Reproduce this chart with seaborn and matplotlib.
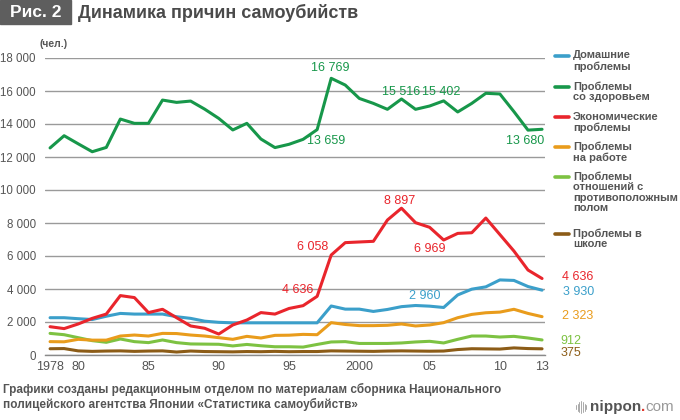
import matplotlib
matplotlib.use("Agg")
import matplotlib.pyplot as plt
import pandas as pd
import seaborn as sns
from matplotlib.lines import Line2D
from matplotlib.patches import Rectangle

# Data
years = list(range(1978, 2014))

domestic = [2260, 2260, 2200, 2150, 2350, 2520, 2480, 2480, 2480, 2320, 2220, 2050,
            1980, 1950, 1950, 1950, 1950, 1950, 1950, 1950, 2970, 2780, 2780, 2640,
            2760, 2930, 3000, 2960, 2880, 3640, 3990, 4130, 4550, 4520, 4150, 3930]
health = [12550, 13290, 12800, 12320, 12580, 14300, 14040, 14040, 15450, 15310, 15390, 14900,
          14340, 13640, 14040, 13090, 12570, 12770, 13070, 13659, 16769, 16360, 15550, 15250,
          14890, 15516, 14890, 15090, 15402, 14730, 15250, 15860, 15820, 14750, 13629, 13680]
economic = [1715, 1600, 1880, 2220, 2480, 3600, 3480, 2570, 2770, 2260, 1760, 1620,
            1270, 1820, 2120, 2570, 2480, 2820, 2990, 3556, 6058, 6810, 6850, 6890,
            8180, 8897, 8020, 7740, 6969, 7370, 7410, 8300, 7300, 6300, 5150, 4636]
work = [810, 800, 950, 900, 900, 1150, 1210, 1150, 1310, 1300, 1210, 1150,
        1050, 950, 1130, 1030, 1190, 1200, 1250, 1230, 1960, 1850, 1780, 1780,
        1800, 1880, 1760, 1820, 1960, 2260, 2460, 2560, 2600, 2770, 2520, 2323]
relations = [1310, 1230, 1050, 870, 770, 970, 810, 750, 910, 750, 670, 660,
             650, 550, 640, 560, 500, 500, 480, 640, 790, 810, 700, 700,
             700, 730, 790, 830, 730, 950, 1150, 1150, 1090, 1130, 1030, 912]
school = [380, 390, 250, 220, 240, 250, 220, 240, 250, 180, 240, 210,
          200, 190, 210, 200, 220, 200, 210, 210, 250, 240, 230, 220,
          240, 250, 240, 230, 240, 330, 380, 370, 360, 430, 390, 375]

causes = ["Домашние\nпроблемы", "Проблемы\nсо здоровьем", "Экономические\nпроблемы",
          "Проблемы\nна работе", "Проблемы\nотношений с\nпротивоположным\nполом",
          "Проблемы в\nшколе"]
colors = ["#3b9fca", "#17974a", "#e9252c", "#e99c1c", "#7dc242", "#8c5c17"]

xtick_labels = {1978: "1978", 1980: "80", 1985: "85", 1990: "90", 1995: "95",
                2000: "2000", 2005: "05", 2010: "10", 2013: "13"}

df = pd.DataFrame({"year": years, causes[0]: domestic, causes[1]: health,
                   causes[2]: economic, causes[3]: work, causes[4]: relations,
                   causes[5]: school})
long_df = df.melt(id_vars="year", var_name="cause", value_name="value")

sns.set_style("white")
plt.rcParams["font.family"] = ["Liberation Sans Narrow", "Liberation Sans", "DejaVu Sans"]

W, H = 680, 420
fig = plt.figure(figsize=(6.8, 4.2), dpi=100)


def fx(px):
    return px / W


def fy(py):
    return 1 - py / H


ax = fig.add_axes([fx(45), fy(355), 500 / W, 297 / H])

draw_order = [5, 4, 3, 0, 2, 1]
sns.lineplot(data=long_df, x="year", y="value", hue="cause",
             hue_order=[causes[i] for i in draw_order],
             palette=[colors[i] for i in draw_order],
             linewidth=2.2, legend=False, ax=ax)

ax.set_xlim(1977.64, 2013.21)
ax.set_ylim(0, 18000)
ax.set_xlabel("")
ax.set_ylabel("")

for s in ["left", "top", "right"]:
    ax.spines[s].set_visible(False)
ax.spines["bottom"].set_color("#8a8a8a")
ax.spines["bottom"].set_linewidth(1.0)

ax.set_yticks(range(0, 18001, 2000))
ax.set_yticklabels([f"{v:,}".replace(",", " ") for v in range(0, 18001, 2000)])
ax.yaxis.grid(True, color="#9a9a9a", linewidth=1.0)
ax.set_axisbelow(True)
ax.tick_params(axis="y", length=0, pad=6.5, labelsize=8.3, labelcolor="#555555")

ax.set_xticks(years)
ax.set_xticklabels([xtick_labels.get(y, "") for y in years])
ax.tick_params(axis="x", direction="in", length=3.5, width=0.8, color="#8a8a8a",
               pad=4, labelsize=9, labelcolor="#555555")

# value labels inside the chart: (year, value, text, color, dx, dy) offsets in px
inner = [
    (1998, 16769, "16 769", colors[1], -1, 10),
    (1997, 13659, "13 659", colors[1], 9, -11),
    (2003, 15516, "15 516", colors[1], 0, 7),
    (2006, 15402, "15 402", colors[1], -2, 9),
    (2013, 13680, "13 680", colors[1], -17, -12),
    (2003, 8897, "8 897", colors[2], -2, 7),
    (1998, 6058, "6 058", colors[2], -19, 8),
    (1997, 3556, "4 636", colors[2], -19, 6),
    (2006, 6969, "6 969", colors[2], -14, -9),
    (2005, 2960, "2 960", colors[0], -5, 10),
]
for yr, val, txt, col, dx, dy in inner:
    ax.annotate(txt, xy=(yr, val), xytext=(dx * 0.72, dy * 0.72),
                textcoords="offset points", ha="center", va="center",
                fontsize=9, color=col)

# end labels at 2013
ends = [(economic[-1], "4 636", colors[2], 20, 2), (domestic[-1], "3 930", colors[0], 21, -2),
        (work[-1], "2 323", colors[3], 20, 1), (relations[-1], "912", colors[4], 18, -1),
        (school[-1], "375", colors[5], 19, -4)]
for val, txt, col, dx, dy in ends:
    ax.annotate(txt, xy=(2013, val), xytext=(dx * 0.72, dy * 0.72),
                textcoords="offset points", ha="left", va="center",
                fontsize=9, color=col, annotation_clip=False)

# legend drawn by hand so the marker sits on the first line of each entry
leg_y = [56, 87, 117, 147, 177, 234]
for col, lab, y in zip(colors, causes, leg_y):
    fig.add_artist(Line2D([fx(555), fx(569)], [fy(y), fy(y)], color=col, lw=2.6))
    fig.text(fx(573), fy(y - 5.5), lab, ha="left", va="top", fontsize=8,
             fontweight="bold", color="#555555", linespacing=1.06,
             family=["Liberation Sans", "DejaVu Sans"])

# header
fig.add_artist(Rectangle((0, fy(24)), fx(71), 24 / H, color="#5e5e5e",
                         transform=fig.transFigure))
fig.text(fx(36), fy(12.5), "Рис. 2", ha="center", va="center", color="white",
         fontsize=12.5, fontweight="bold", family=["Liberation Sans", "DejaVu Sans"])
fig.text(fx(78), fy(12.5), "Динамика причин самоубийств", ha="left", va="center",
         color="#4a4a4a", fontsize=13, fontweight="bold",
         family=["Liberation Sans", "DejaVu Sans"])
fig.text(fx(40), fy(44), "(чел.)", ha="left", va="center", color="#555555",
         fontsize=7.5, fontweight="bold", family=["Liberation Sans", "DejaVu Sans"])

# source note
fig.text(fx(3), fy(389), "Графики созданы редакционным отделом по материалам сборника Национального",
         ha="left", va="center", fontsize=8.5, fontweight="bold", color="#555555")
fig.text(fx(3), fy(404), "полицейского агентства Японии «Статистика самоубийств»",
         ha="left", va="center", fontsize=8.5, fontweight="bold", color="#555555")

# nippon.com mark
for i, h in enumerate([4, 7, 10, 12, 10, 7, 4]):
    xx = fx(576 + i * 1.7)
    fig.add_artist(Line2D([xx, xx], [fy(407 + h / 2), fy(407 - h / 2)],
                          color="#aaaaaa", lw=0.7))
renderer = fig.canvas.get_renderer()
t1 = fig.text(fx(590), fy(407), "nippon", ha="left", va="center", fontsize=11,
              fontweight="bold", color="#555555", family=["Liberation Sans", "DejaVu Sans"])
x1 = t1.get_window_extent(renderer).x1
t2 = fig.text(x1 / W, fy(407), ".", ha="left", va="center", fontsize=11,
              fontweight="bold", color="#e03a2f", family=["Liberation Sans", "DejaVu Sans"])
x2 = t2.get_window_extent(renderer).x1
fig.text(x2 / W, fy(407), "com", ha="left", va="center", fontsize=11,
         color="#9a9a9a", family=["Liberation Sans", "DejaVu Sans"])

fig.savefig("out.png", dpi=100)
